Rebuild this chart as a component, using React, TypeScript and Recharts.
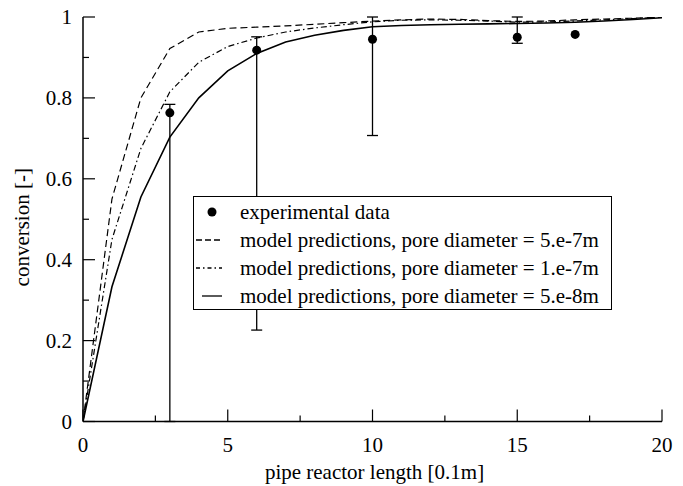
import React from 'react'
import { ComposedChart, Line, Scatter, ErrorBar, XAxis, YAxis } from 'recharts'

// model curves, sampled at integer lengths
const lengths = [0, 1, 2, 3, 4, 5, 6, 7, 8, 9, 10, 11, 12, 13, 14, 15, 16, 17, 18, 19, 20]
const pore5e7 = [0, 0.55, 0.8, 0.922, 0.963, 0.972, 0.975, 0.978, 0.982, 0.986, 0.99, 0.993, 0.995, 0.994, 0.991, 0.989, 0.99, 0.993, 0.995, 0.997, 1.0]
const pore1e7 = [0, 0.45, 0.675, 0.815, 0.888, 0.927, 0.948, 0.963, 0.973, 0.981, 0.988, 0.992, 0.993, 0.992, 0.99, 0.987, 0.988, 0.99, 0.993, 0.996, 1.0]
const pore5e8 = [0, 0.333, 0.555, 0.703, 0.8, 0.867, 0.91, 0.938, 0.955, 0.967, 0.976, 0.979, 0.981, 0.982, 0.983, 0.984, 0.985, 0.987, 0.99, 0.994, 0.998]

// experimental points with error range
const expX = [3, 6, 10, 15, 17]
const expY = [0.763, 0.918, 0.945, 0.95, 0.957]
const expLow = [0, 0.226, 0.707, 0.935, null]
const expHigh = [0.784, 0.951, 1.0, 1.0, null]

const xTicks = [0, 2.5, 5, 7.5, 10, 12.5, 15, 17.5, 20]
const yTicks = [0, 0.1, 0.2, 0.3, 0.4, 0.5, 0.6, 0.7, 0.8, 0.9, 1]

const legendItems = [
  { name: 'experimental data', kind: 'dot' },
  { name: 'model predictions, pore diameter = 5.e-7m', kind: '6 3' },
  { name: 'model predictions, pore diameter = 1.e-7m', kind: '4 3 1.5 3' },
  { name: 'model predictions, pore diameter = 5.e-8m', kind: 'solid' },
]

const curves = lengths.map((x, i) => ({ x, a: pore5e7[i], b: pore1e7[i], c: pore5e8[i] }))
const points = expX.map((x, i) => ({
  x,
  y: expY[i],
  err: expLow[i] == null ? undefined : [expY[i] - (expLow[i] as number), (expHigh[i] as number) - expY[i]],
}))

const FONT = "'Liberation Serif', 'Times New Roman', serif"
const FS = 21
const isMajorX = (v: number) => v % 5 === 0
const isMajorY = (v: number) => Math.round(v * 10) % 2 === 0

function XTick(props: any) {
  const { x, y, payload, top } = props
  const major = isMajorX(payload.value)
  const len = major ? 12 : 6
  return (
    <g>
      <line x1={x} x2={x} y1={y} y2={top ? y + len : y - len} stroke="#000" strokeWidth={1.2} />
      {!top && major && (
        <text x={x} y={y + 30} textAnchor="middle" fontSize={FS} fontFamily={FONT} fill="#000">{payload.value}</text>
      )}
    </g>
  )
}

function YTick(props: any) {
  const { x, y, payload, right } = props
  const major = isMajorY(payload.value)
  const len = major ? 12 : 6
  const label = payload.value === 0 ? '0' : payload.value === 1 ? '1' : payload.value.toFixed(1)
  return (
    <g>
      <line x1={x} x2={right ? x - len : x + len} y1={y} y2={y} stroke="#000" strokeWidth={1.2} />
      {!right && major && (
        <text x={x - 11} y={y + 7} textAnchor="end" fontSize={FS} fontFamily={FONT} fill="#000">{label}</text>
      )}
    </g>
  )
}

function XTitle(props: any) {
  const { viewBox } = props
  return (
    <text x={viewBox.x + viewBox.width / 2 + 2} y={viewBox.y + 57} textAnchor="middle" fontSize={FS} fontFamily={FONT} fill="#000">
      pipe reactor length [0.1m]
    </text>
  )
}

function YTitle(props: any) {
  const { viewBox } = props
  const cx = 29
  const cy = viewBox.y + viewBox.height / 2 + 8
  return (
    <text x={cx} y={cy} transform={`rotate(-90, ${cx}, ${cy})`} textAnchor="middle" fontSize={FS} fontFamily={FONT} fill="#000">
      conversion [-]
    </text>
  )
}

function LegendBox() {
  return (
    <div style={{ position: 'absolute', left: 193, top: 196, width: 419, height: 114, boxSizing: 'border-box',
      border: '1.3px solid #000', background: '#fff', paddingTop: 1, fontFamily: FONT, fontSize: FS, color: '#000' }}>
      {legendItems.map((it) => (
        <div key={it.name} style={{ display: 'flex', alignItems: 'center', height: 28, whiteSpace: 'nowrap' }}>
          <svg width={46} height={20} style={{ flex: 'none' }}>
            {it.kind === 'dot' ? (
              <circle cx={18} cy={10} r={4.5} fill="#000" />
            ) : (
              <line x1={it.kind === 'solid' ? 8 : 2} x2={28} y1={10} y2={10} stroke="#000" strokeWidth={1.3}
                strokeDasharray={it.kind === 'solid' ? undefined : it.kind} />
            )}
          </svg>
          <span style={{ lineHeight: '28px' }}>{it.name}</span>
        </div>
      ))}
    </div>
  )
}

export default function App() {
  return (
    <div style={{ position: 'absolute', left: 0, top: 0, width: 683, height: 486, background: '#fff' }}>
      <ComposedChart width={683} height={486} data={curves} margin={{ top: 17, right: 21, bottom: 0, left: 0 }}>
        <XAxis dataKey="x" type="number" domain={[0, 20]} ticks={xTicks} interval={0} height={64.5}
          axisLine={{ stroke: '#000', strokeWidth: 1.5 }} tickLine={false} tickSize={0} tickMargin={0}
          tick={<XTick />} allowDataOverflow label={<XTitle />} />
        <XAxis xAxisId="top" orientation="top" type="number" domain={[0, 20]} ticks={xTicks} interval={0} height={0}
          axisLine={{ stroke: '#000', strokeWidth: 1.5 }} tickLine={false} tickSize={0} tickMargin={0}
          tick={<XTick top />} allowDataOverflow />
        <YAxis type="number" domain={[0, 1]} ticks={yTicks} interval={0} width={83}
          axisLine={{ stroke: '#000', strokeWidth: 1.5 }} tickLine={false} tickSize={0} tickMargin={0}
          tick={<YTick />} allowDataOverflow label={<YTitle />} />
        <YAxis yAxisId="right" orientation="right" type="number" domain={[0, 1]} ticks={yTicks} interval={0} width={0}
          axisLine={{ stroke: '#000', strokeWidth: 1.5 }} tickLine={false} tickSize={0} tickMargin={0}
          tick={<YTick right />} allowDataOverflow />
        <Line dataKey="a" type="linear" stroke="#000" strokeWidth={1.2} strokeDasharray="7 4" dot={false} isAnimationActive={false} />
        <Line dataKey="b" type="linear" stroke="#000" strokeWidth={1.2} strokeDasharray="6 3 1.5 3" dot={false} isAnimationActive={false} />
        <Line dataKey="c" type="linear" stroke="#000" strokeWidth={1.6} dot={false} isAnimationActive={false} />
        <Scatter data={points} dataKey="y" fill="#000" isAnimationActive={false}
          shape={(p: any) => <circle cx={p.cx} cy={p.cy} r={4.5} fill="#000" />}>
          <ErrorBar dataKey="err" direction="y" width={5.5} stroke="#000" strokeWidth={1.3} isAnimationActive={false} />
        </Scatter>
      </ComposedChart>
      <LegendBox />
    </div>
  )
}
